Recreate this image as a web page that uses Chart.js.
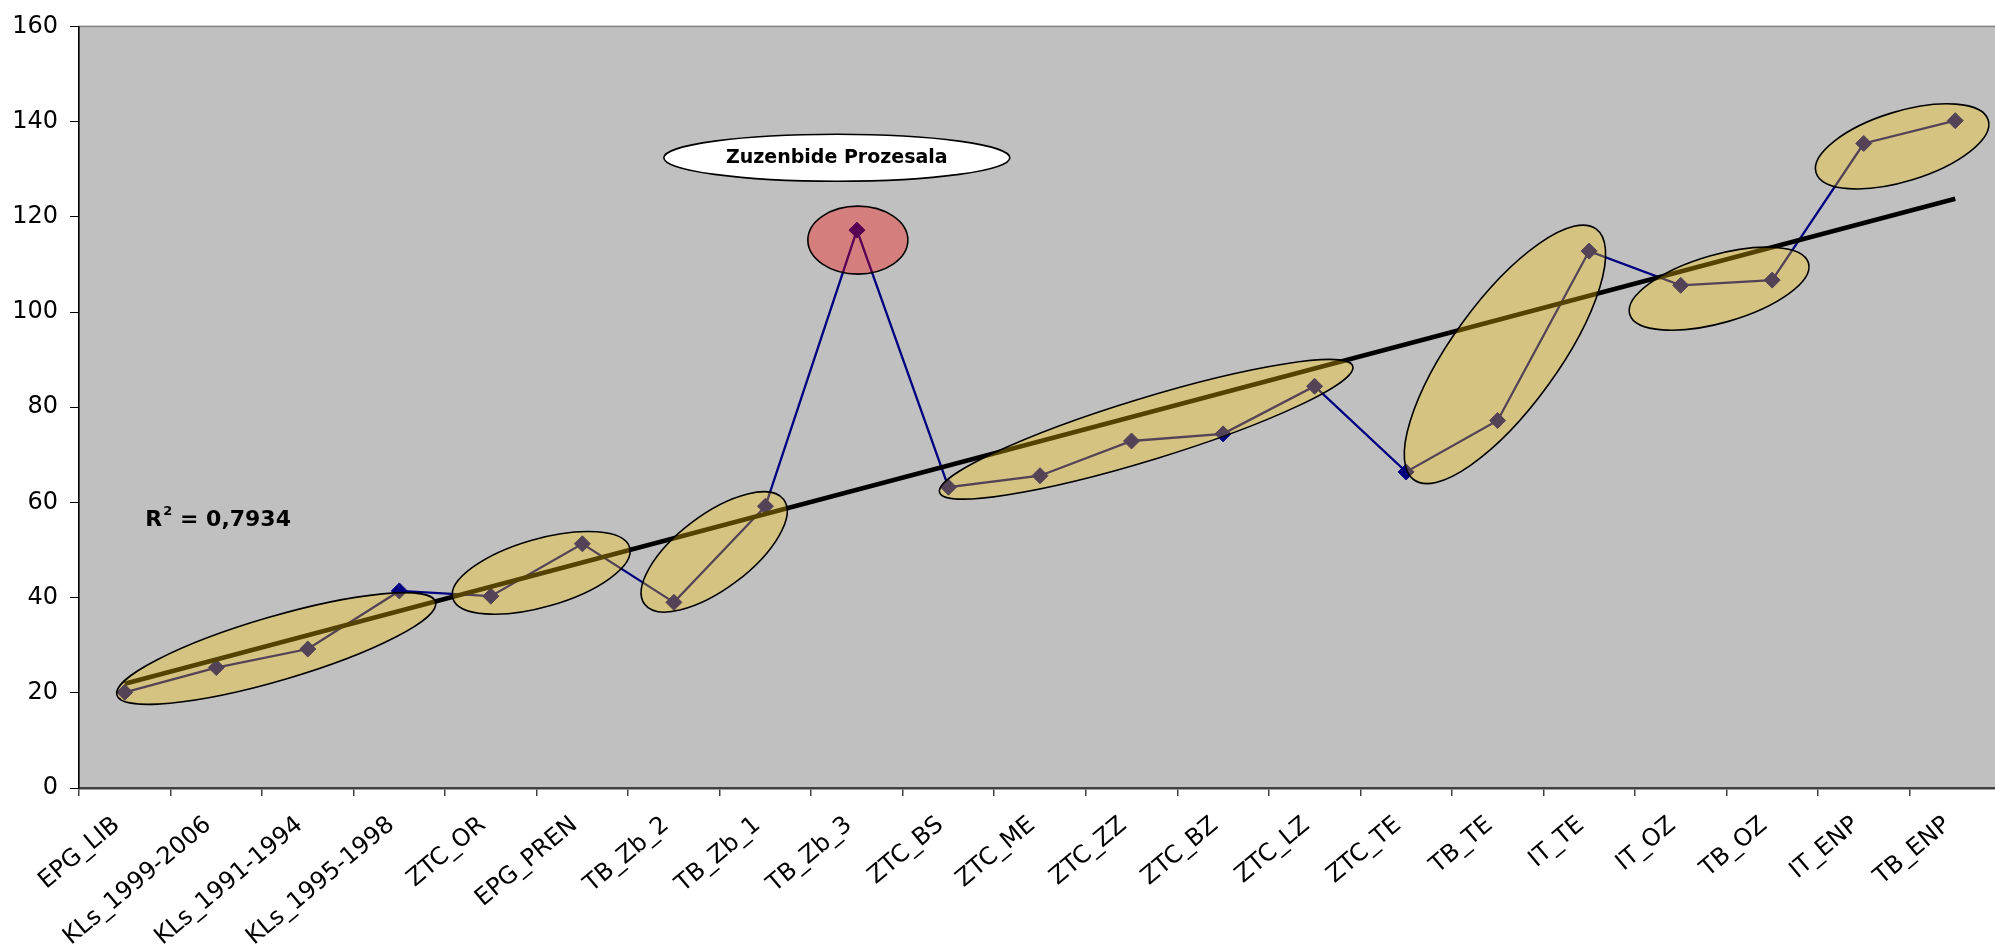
<!DOCTYPE html>
<html>
<head>
<meta charset="utf-8">
<title>Zuzenbide Prozesala</title>
<script src="https://cdn.jsdelivr.net/npm/chart.js@4.4.1/dist/chart.umd.min.js"></script>
<style>
  html, body { margin: 0; padding: 0; background: #fff; overflow: hidden; }
  #wrap { position: relative; width: 2010px; height: 947px; }
</style>
</head>
<body>
<div id="wrap"><canvas id="chart"></canvas></div>
<script>
const categories = ['EPG_LIB', 'KLs_1999-2006', 'KLs_1991-1994', 'KLs_1995-1998', 'ZTC_OR', 'EPG_PREN',
  'TB_Zb_2', 'TB_Zb_1', 'TB_Zb_3', 'ZTC_BS', 'ZTC_ME', 'ZTC_ZZ', 'ZTC_BZ', 'ZTC_LZ', 'ZTC_TE',
  'TB_TE', 'IT_TE', 'IT_OZ', 'TB_OZ', 'IT_ENP', 'TB_ENP'];
const values = [20.1, 25.3, 29.2, 41.4, 40.3, 51.3, 39.0, 59.2, 117.2, 63.2, 65.6,
  72.9, 74.4, 84.4, 66.4, 77.2, 112.8, 105.6, 106.7, 135.4, 140.2];

// linear trend line, both ends
const trendCategories = ['EPG_LIB', 'TB_ENP'];
const trendValues = [21.9, 123.8];

const yTicks = [0, 20, 40, 60, 80, 100, 120, 140, 160];
const rSquared = '0,7934';
const calloutLabel = 'Zuzenbide Prozesala';

// highlight ellipses: centre in (category index, value), radii in px, tilt in degrees
const groupEllipses = [
  { x: 1.655, y: 29.3, rx: 166, ry: 32, rot: -16.3 },
  { x: 4.55, y: 45.2, rx: 92, ry: 34, rot: -16 },
  { x: 6.44, y: 49.6, rx: 87, ry: 37, rot: -37 },
  { x: 11.16, y: 75.35, rx: 216, ry: 31, rot: -17 },
  { x: 15.08, y: 91.1, rx: 155, ry: 53, rot: -54 },
  { x: 17.42, y: 104.9, rx: 93, ry: 34, rot: -16 },
  { x: 19.42, y: 134.8, rx: 90, ry: 35, rot: -17 }
];
const outlier = { x: 8.01, y: 115.1, rx: 50, ry: 34 };
const callout = { x: 7.78, y: 132.4, rx: 173, ry: 23.5 };
const rSquaredPos = { x: 0.225, y: 55.1 };

const FONT = 'DejaVu Sans';

function ellipse(ctx, cx, cy, rx, ry, rotDeg, fill) {
  ctx.beginPath();
  ctx.ellipse(cx, cy, rx, ry, rotDeg * Math.PI / 180, 0, Math.PI * 2);
  ctx.fillStyle = fill;
  ctx.fill();
  ctx.lineWidth = 1.6;
  ctx.strokeStyle = '#000';
  ctx.stroke();
}

const plotBackground = {
  id: 'plotBackground',
  beforeDraw(chart) {
    const { ctx, chartArea: a } = chart;
    ctx.save();
    ctx.fillStyle = '#c0c0c0';
    ctx.fillRect(a.left, a.top, a.right - a.left, a.bottom - a.top);
    ctx.strokeStyle = '#808080';
    ctx.lineWidth = 1.5;
    ctx.strokeRect(a.left, a.top, a.right - a.left, a.bottom - a.top);
    ctx.restore();
  }
};

const overlays = {
  id: 'overlays',
  afterDatasetsDraw(chart) {
    const { ctx } = chart;
    const xs = chart.scales.x, ys = chart.scales.y;
    ctx.save();

    groupEllipses.forEach(e => {
      ellipse(ctx, xs.getPixelForValue(e.x), ys.getPixelForValue(e.y), e.rx, e.ry, e.rot, 'rgba(255,204,0,0.33)');
    });
    ellipse(ctx, xs.getPixelForValue(outlier.x), ys.getPixelForValue(outlier.y), outlier.rx, outlier.ry, 0, 'rgba(255,0,0,0.34)');

    // callout bubble
    const cx = xs.getPixelForValue(callout.x), cy = ys.getPixelForValue(callout.y);
    ellipse(ctx, cx, cy, callout.rx, callout.ry, 0, '#fff');
    ctx.fillStyle = '#000';
    ctx.font = 'bold 19px "' + FONT + '"';
    ctx.textAlign = 'center';
    ctx.textBaseline = 'middle';
    ctx.fillText(calloutLabel, cx, cy);

    // trend line R squared
    const rx = xs.getPixelForValue(rSquaredPos.x), ry = ys.getPixelForValue(rSquaredPos.y);
    ctx.textAlign = 'left';
    ctx.textBaseline = 'alphabetic';
    ctx.font = 'bold 22px "' + FONT + '"';
    ctx.fillText('R', rx, ry);
    const rw = ctx.measureText('R').width;
    ctx.font = 'bold 13px "' + FONT + '"';
    ctx.fillText('2', rx + rw + 1, ry - 11);
    const sw = ctx.measureText('2').width;
    ctx.font = 'bold 22px "' + FONT + '"';
    ctx.fillText(' = ' + rSquared, rx + rw + sw + 1, ry);

    ctx.restore();
  }
};

const ctx = document.getElementById('chart').getContext('2d');
new Chart(ctx, {
  type: 'line',
  data: {
    labels: categories,
    datasets: [
      {
        label: 'Trend',
        data: trendCategories.map((c, i) => ({ x: c, y: trendValues[i] })),
        borderColor: '#000',
        borderWidth: 4.5,
        pointRadius: 0,
        fill: false,
        tension: 0
      },
      {
        label: 'Values',
        data: values,
        borderColor: '#000080',
        borderWidth: 2.3,
        pointStyle: 'rectRot',
        pointRadius: 8,
        pointBackgroundColor: '#000080',
        pointBorderColor: '#000080',
        pointBorderWidth: 1,
        fill: false,
        tension: 0
      }
    ]
  },
  options: {
    responsive: true,
    maintainAspectRatio: false,
    animation: false,
    devicePixelRatio: 1,
    layout: { padding: { top: 20, right: 5, left: 0, bottom: 0 } },
    plugins: { legend: { display: false }, tooltip: { enabled: false } },
    scales: {
      x: {
        type: 'category',
        offset: true,
        grid: { offset: true, drawOnChartArea: false, drawTicks: true, tickLength: 8, color: '#404040', lineWidth: 1.5 },
        border: { display: true, color: '#404040', width: 2.5 },
        ticks: {
          autoSkip: false, minRotation: 40, maxRotation: 40, padding: 15, labelOffset: -8, color: '#000',
          font: { family: FONT, size: 24 }
        },
        afterFit(scale) { scale.height = 159; }
      },
      y: {
        min: 0,
        max: 160,
        grid: { drawOnChartArea: false, drawTicks: true, tickLength: 9, color: '#000', lineWidth: 1 },
        border: { display: true, color: '#000', width: 1.5 },
        ticks: { color: '#000', padding: 12, font: { family: FONT, size: 24 } },
        afterBuildTicks(scale) { scale.ticks = yTicks.map(v => ({ value: v })); },
        afterFit(scale) { scale.width = 79; }
      }
    }
  },
  plugins: [plotBackground, overlays]
});
</script>
</body>
</html>
